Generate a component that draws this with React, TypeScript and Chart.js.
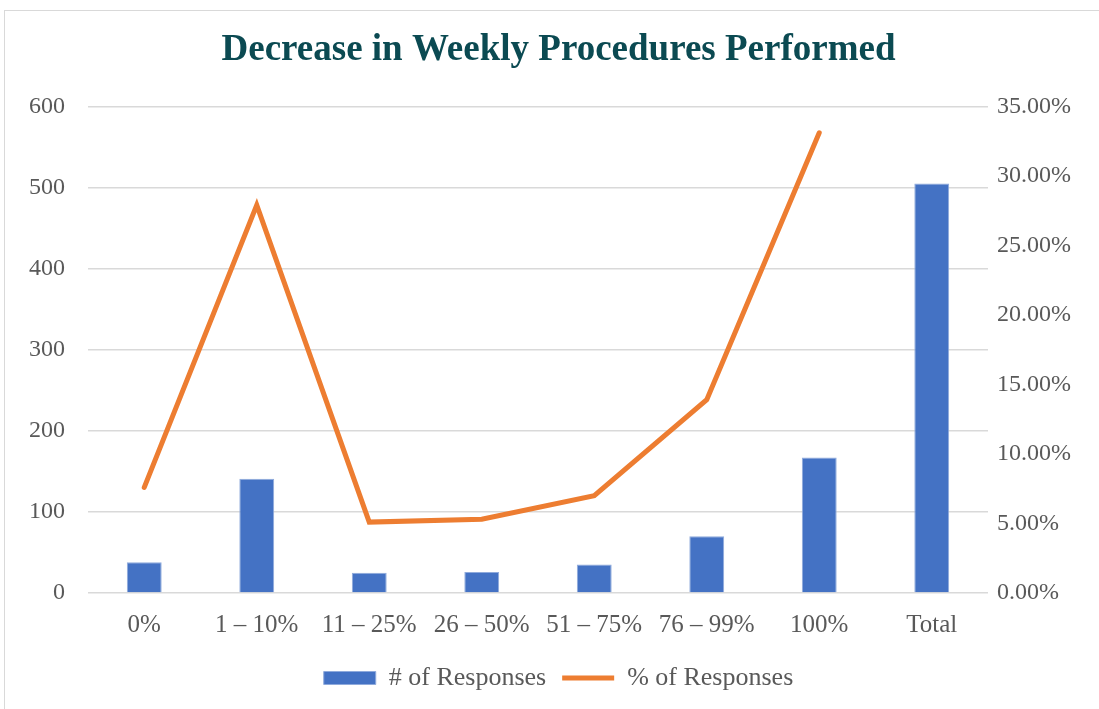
import React, { useEffect, useRef } from "react";
import { Chart, registerables } from "chart.js";

Chart.register(...registerables);

const categories = ["0%", "1 – 10%", "11 – 25%", "26 – 50%", "51 – 75%", "76 – 99%", "100%", "Total"];
const responseCounts = [38, 141, 25, 26, 35, 70, 167, 505];
const responsePercents = [7.6, 27.9, 5.1, 5.3, 7.0, 13.9, 33.1, null];
const leftTicks = [0, 100, 200, 300, 400, 500, 600];
const rightTicks = [0, 5, 10, 15, 20, 25, 30, 35];

const FONT = "'Liberation Serif', 'Times New Roman', serif";
const GRAY = "#595959";

export default function App() {
  const ref = useRef<HTMLCanvasElement | null>(null);
  useEffect(() => {
    if (!ref.current) return;
    const chart = new Chart(ref.current, {
      type: "bar",
      data: {
        labels: categories,
        datasets: [
          {
            type: "line",
            label: "% of Responses",
            data: responsePercents,
            yAxisID: "y1",
            borderColor: "#ED7D31",
            backgroundColor: "#ED7D31",
            borderWidth: 5,
            borderCapStyle: "round",
            borderJoinStyle: "miter",
            pointRadius: 0,
            pointHoverRadius: 0,
            pointStyle: "line",
            tension: 0,
            order: 0,
          } as any,
          {
            type: "bar",
            label: "# of Responses",
            data: responseCounts,
            yAxisID: "y",
            backgroundColor: "#4472C4",
            borderColor: "#8FAADC",
            borderWidth: 1,
            pointStyle: "rect",
            categoryPercentage: 1,
            barPercentage: 0.31,
            order: 1,
          } as any,
        ],
      },
      options: {
        animation: false,
        responsive: true,
        maintainAspectRatio: false,
        layout: { padding: { left: 18, right: 0, top: 0, bottom: 8 } },
        plugins: {
          title: {
            display: true,
            text: "Decrease in Weekly Procedures Performed",
            color: "#0B4A52",
            font: { family: FONT, size: 37, weight: "bold" },
            padding: { top: 28, bottom: 34 },
          },
          legend: {
            position: "bottom",
            reverse: true,
            labels: {
              usePointStyle: true,
              pointStyleWidth: 52,
              boxHeight: 13,
              color: GRAY,
              font: { family: FONT, size: 26 },
              padding: 16,
            },
          },
          tooltip: { enabled: false },
        },
        scales: {
          x: {
            grid: { display: false },
            border: { display: false },
            ticks: { color: GRAY, font: { family: FONT, size: 25 }, padding: 9, maxRotation: 0, autoSkip: false },
          },
          y: {
            position: "left",
            min: 0,
            max: 600,
            afterBuildTicks: (axis: any) => {
              axis.ticks = leftTicks.map((v) => ({ value: v }));
            },
            afterFit: (axis: any) => {
              axis.width = 70;
            },
            grid: { color: "#D9D9D9", lineWidth: 1.5, drawTicks: false },
            border: { display: false },
            ticks: { color: GRAY, font: { family: FONT, size: 24 }, padding: 23 },
          },
          y1: {
            position: "right",
            min: 0,
            max: 35,
            afterBuildTicks: (axis: any) => {
              axis.ticks = rightTicks.map((v) => ({ value: v }));
            },
            afterFit: (axis: any) => {
              axis.width = 111;
            },
            grid: { display: false, drawTicks: false },
            border: { display: false },
            ticks: {
              color: GRAY,
              font: { family: FONT, size: 24 },
              padding: 9,
              callback: (v: any) => Number(v).toFixed(2) + "%",
            },
          },
        },
      },
    });
    return () => chart.destroy();
  }, []);

  return (
    <div style={{ position: "fixed", left: 0, top: 0, width: 1099, height: 709, background: "#fff" }}>
      <div
        style={{
          position: "absolute",
          left: 4,
          top: 10,
          right: -2,
          bottom: -2,
          border: "1px solid #D9D9D9",
        }}
      />
      <canvas ref={ref} style={{ position: "absolute", left: 0, top: 0 }} />
    </div>
  );
}
